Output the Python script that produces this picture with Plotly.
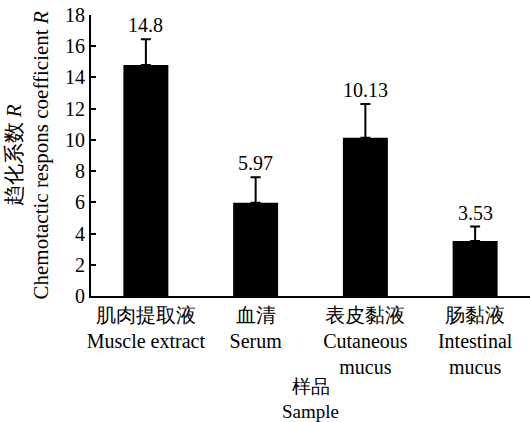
import plotly.graph_objects as go

categories_cn = ["肌肉提取液", "血清", "表皮黏液", "肠黏液"]
categories_en = ["Muscle extract", "Serum", "Cutaneous<br>mucus", "Intestinal<br>mucus"]
values = [14.8, 5.97, 10.13, 3.53]
errors = [1.65, 1.63, 2.17, 0.92]
value_labels = ["14.8", "5.97", "10.13", "3.53"]
y_ticks = [0, 2, 4, 6, 8, 10, 12, 14, 16, 18]
y_title = "趋化系数 <i>R</i><br>Chemotactic respons coefficient <i>R</i>"
x_title = "样品<br>Sample"

FONT = "Liberation Serif"
tick_text = [f"{c}<br>{e}" for c, e in zip(categories_cn, categories_en)]
x_pos = list(range(len(categories_cn)))

fig = go.Figure()
fig.add_trace(go.Bar(
    x=x_pos, y=values, width=0.41,
    marker=dict(color="black", line=dict(color="black", width=0)),
    error_y=dict(type="data", array=errors, arrayminus=[0] * len(errors), symmetric=False,
                 color="black", thickness=2, width=5),
    showlegend=False,
))

for x, v, e, t in zip(x_pos, values, errors, value_labels):
    fig.add_annotation(x=x, y=v + e, text=t, showarrow=False, yanchor="bottom", yshift=1,
                       font=dict(family=FONT, size=20, color="black"))

# y-axis title (two rotated lines)
fig.add_annotation(x=0, xref="paper", y=0.5, yref="paper", xanchor="center", yanchor="middle",
                   xshift=-64, text=y_title, textangle=-90, showarrow=False,
                   font=dict(family=FONT, size=21, color="black"))

fig.update_layout(
    width=530, height=422,
    margin=dict(l=91, r=0, t=15, b=126),
    plot_bgcolor="white", paper_bgcolor="white",
    font=dict(family=FONT, size=20, color="black"),
)
fig.update_xaxes(
    range=[-0.5, 3.5], tickmode="array", tickvals=x_pos, ticktext=tick_text,
    showline=True, linecolor="black", linewidth=2, ticks="", showgrid=False, zeroline=False,
    tickfont=dict(family=FONT, size=20),
    title=dict(text=x_title, font=dict(family=FONT, size=19), standoff=2),
)
fig.update_yaxes(
    range=[0, 18], tickmode="array", tickvals=y_ticks,
    showline=True, linecolor="black", linewidth=2, ticks="inside", ticklen=5, tickwidth=2,
    tickcolor="black", showgrid=False, zeroline=False,
    tickfont=dict(family=FONT, size=20),
)

fig.write_html("out.html")
